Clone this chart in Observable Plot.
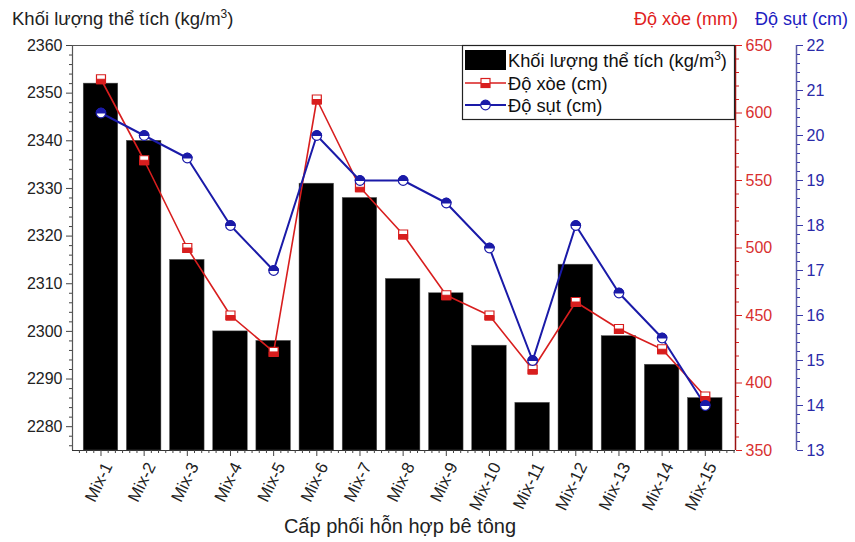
<!DOCTYPE html>
<html>
<head>
<meta charset="utf-8">
<script src="https://cdn.jsdelivr.net/npm/d3@7"></script>
<script src="https://cdn.jsdelivr.net/npm/@observablehq/plot@0.6"></script>
<style>
  html, body { margin: 0; padding: 0; background: #fff; }
  #wrap { position: relative; width: 855px; height: 542px; font-family: 'Liberation Sans', Arial, sans-serif; }
  #overlay { position: absolute; left: 0; top: 0; pointer-events: none; }
</style>
</head>
<body>
<div id="wrap"></div>
<script>
// ---- data ----
const mixes = ["Mix-1","Mix-2","Mix-3","Mix-4","Mix-5","Mix-6","Mix-7","Mix-8","Mix-9","Mix-10","Mix-11","Mix-12","Mix-13","Mix-14","Mix-15"];
const density = [2352, 2340, 2315, 2300, 2298, 2331, 2328, 2311, 2308, 2297, 2285, 2314, 2299, 2293, 2286];
const spread = [625, 565, 500, 450, 423, 610, 545, 510, 465, 450, 410, 460, 440, 425, 390];
const slump = [20.5, 20.0, 19.5, 18.0, 17.0, 20.0, 19.0, 19.0, 18.5, 17.5, 15.0, 18.0, 16.5, 15.5, 14.0];
const densityTicks = [2280, 2290, 2300, 2310, 2320, 2330, 2340, 2350, 2360];
const spreadTicks = [350, 400, 450, 500, 550, 600, 650];
const slumpTicks = [13, 14, 15, 16, 17, 18, 19, 20, 21, 22];

// ---- scales for secondary axes (mapped onto the primary y domain) ----
const yDom = [2275, 2360];
const spreadDom = [350, 650];
const slumpDom = [13, 22];
const mapS = d3.scaleLinear().domain(spreadDom).range(yDom);
const mapB = d3.scaleLinear().domain(slumpDom).range(yDom);

const rows = mixes.map((m, i) => ({
  i: i + 1, mix: m, density: density[i],
  spreadY: mapS(spread[i]), slumpY: mapB(slump[i])
}));

const xDom = [0.34, 15.70];
const RED = "#d81e1e", BLUE = "#1a1aa8";

// custom symbols
const sqFull = {draw(c){ c.rect(-4.5, -4.5, 9, 9); }};
const sqBottom = {draw(c){ c.rect(-4.5, 0, 9, 4.5); }};
const circFull = {draw(c){ c.moveTo(4.8, 0); c.arc(0, 0, 4.8, 0, 2 * Math.PI); }};
const circTop = {draw(c){ c.moveTo(-4.8, 0); c.arc(0, 0, 4.8, Math.PI, 2 * Math.PI); c.closePath(); }};

const minorX = [];
for (let k = Math.ceil(xDom[0] * 6); k <= Math.floor(xDom[1] * 6); k++) if (k % 6 !== 0) minorX.push(k / 6);
const minorY = d3.range(2276, 2361, 2).filter(v => v % 10 !== 0);
const minorS = d3.range(360, 650, 10).filter(v => v % 50 !== 0).map(v => mapS(v));
const minorB = d3.range(13.2, 22, 0.2).filter(v => Math.abs(v - Math.round(v)) > 1e-6).map(v => mapB(v));

const chart = Plot.plot({
  width: 855, height: 542,
  marginTop: 45, marginBottom: 92, marginLeft: 72, marginRight: 120,
  x: {domain: xDom},
  y: {domain: yDom},
  style: {fontFamily: "'Liberation Sans', Arial, sans-serif", fontSize: "16px", background: "transparent", color: "#222"},
  marks: [
    Plot.rect(rows, {x1: d => d.i - 0.4, x2: d => d.i + 0.4, y1: () => yDom[0], y2: "density", fill: "#000", stroke: "#555", strokeWidth: 0.5}),
    // frame lines
    Plot.ruleY([yDom[1]], {stroke: "#555", strokeWidth: 1.2}),
    Plot.ruleY([yDom[0]], {stroke: "#333", strokeWidth: 1.2}),
    Plot.ruleX([xDom[0]], {stroke: "#555", strokeWidth: 1.2}),
    Plot.ruleX([xDom[1]], {stroke: "#9a1010", strokeWidth: 1.5}),
    Plot.ruleX([xDom[1]], {dx: 61, stroke: "#5a5aa8", strokeWidth: 1.5}),
    // left axis
    Plot.axisY({ticks: densityTicks, tickSize: 6, tickPadding: 4, tickFormat: d => String(d), label: null, stroke: "#444", fill: "#222"}),
    Plot.axisY({ticks: minorY, tickSize: 3, tickFormat: null, text: null, label: null, stroke: "#444"}),
    // bottom axis
    Plot.axisX({ticks: d3.range(1, 16), tickSize: 6, text: null, label: null, stroke: "#444"}),
    Plot.axisX({ticks: d3.range(1, 16), tickSize: 0, tickPadding: 13, dx: 7, tickRotate: -64, fontSize: 17, tickFormat: d => mixes[d - 1], label: null, fill: "#222"}),
    Plot.axisX({ticks: minorX, tickSize: 3, text: null, label: null, stroke: "#444"}),
    // red axis
    Plot.axisY({anchor: "right", ticks: spreadTicks.map(mapS), tickSize: 6, tickPadding: 4, tickFormat: y => String(Math.round(mapS.invert(y))), label: null, stroke: RED, fill: "#d83030"}),
    Plot.axisY({anchor: "right", ticks: minorS, tickSize: 3, text: null, label: null, stroke: RED}),
    // blue axis
    Plot.axisY({anchor: "right", dx: 61, ticks: slumpTicks.map(mapB), tickSize: 6, tickPadding: 4, tickFormat: y => String(Math.round(mapB.invert(y))), label: null, stroke: "#3a3aa8", fill: "#2a2aa8"}),
    Plot.axisY({anchor: "right", dx: 61, ticks: minorB, tickSize: 3, text: null, label: null, stroke: "#3a3aa8"}),
    // lines
    Plot.line(rows, {x: "i", y: "spreadY", stroke: RED, strokeWidth: 1.6}),
    Plot.line(rows, {x: "i", y: "slumpY", stroke: BLUE, strokeWidth: 2}),
    Plot.dot(rows, {x: "i", y: "spreadY", symbol: sqFull, fill: "#fff", stroke: RED, strokeWidth: 1.2}),
    Plot.dot(rows, {x: "i", y: "spreadY", symbol: sqBottom, fill: RED, stroke: RED, strokeWidth: 1}),
    Plot.dot(rows, {x: "i", y: "slumpY", symbol: circFull, fill: "#fff", stroke: BLUE, strokeWidth: 1.2}),
    Plot.dot(rows, {x: "i", y: "slumpY", symbol: circTop, fill: BLUE, stroke: BLUE, strokeWidth: 1})
  ]
});
const wrap = document.getElementById("wrap");
wrap.appendChild(chart);

// overlay: titles and legend
const ns = "http://www.w3.org/2000/svg";
const ov = document.createElementNS(ns, "svg");
ov.setAttribute("id", "overlay");
ov.setAttribute("width", 855);
ov.setAttribute("height", 542);
ov.innerHTML = `
  <g font-family="'Liberation Sans', Arial, sans-serif">
    <text x="12" y="25" font-size="18.5" fill="#222">Khối lượng thể tích (kg/m<tspan dy="-7" font-size="12">3</tspan><tspan dy="7">)</tspan></text>
    <text x="634" y="25" font-size="18" fill="#e02020">Độ xòe (mm)</text>
    <text x="755" y="25" font-size="18" fill="#2020c0">Độ sụt (cm)</text>
    <text x="400" y="533" font-size="20" fill="#222" text-anchor="middle">Cấp phối hỗn hợp bê tông</text>
    <rect x="462.5" y="45.5" width="272" height="74" fill="#fff" stroke="#222" stroke-width="1.2"/>
    <rect x="465" y="50" width="41" height="20" fill="#000"/>
    <text x="508" y="67" font-size="18.3" fill="#111">Khối lượng thể tích (kg/m<tspan dy="-7" font-size="12">3</tspan><tspan dy="7">)</tspan></text>
    <line x1="465" y1="83" x2="506" y2="83" stroke="${RED}" stroke-width="1.6"/>
    <rect x="481" y="78.5" width="9" height="9" fill="#fff" stroke="${RED}" stroke-width="1.2"/>
    <rect x="481" y="83" width="9" height="4.5" fill="${RED}"/>
    <text x="508" y="90" font-size="18.3" fill="#111">Độ xòe (cm)</text>
    <line x1="465" y1="105" x2="506" y2="105" stroke="${BLUE}" stroke-width="2"/>
    <circle cx="485.5" cy="105" r="4.8" fill="#fff" stroke="${BLUE}" stroke-width="1.2"/>
    <path d="M480.7,105 A4.8,4.8 0 0 1 490.3,105 Z" fill="${BLUE}"/>
    <text x="508" y="112" font-size="18.3" fill="#111">Độ sụt (cm)</text>
  </g>`;
wrap.appendChild(ov);
</script>
</body>
</html>
